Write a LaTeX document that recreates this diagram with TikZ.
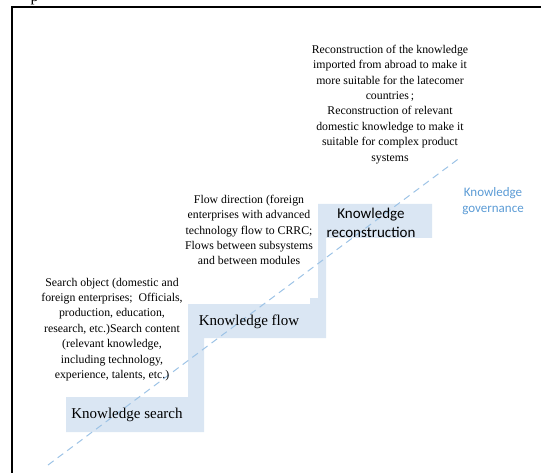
\documentclass[tikz,border=0pt]{standalone}
\usepackage{fontspec}
\setmainfont{Liberation Serif}
\newfontfamily\calib{Carlito}
\definecolor{stepfill}{RGB}{218,230,243}
\definecolor{dashblue}{RGB}{157,195,230}
\definecolor{govblue}{RGB}{91,155,213}
\begin{document}
\begin{tikzpicture}[x=1pt,y=-1pt,
  desc/.style={align=center,inner sep=0pt,font=\fontsize{11.8}{15.4}\selectfont},
  steplabel/.style={inner sep=0pt,font=\fontsize{15}{18}\selectfont},
  sanslabel/.style={align=center,inner sep=0pt,font=\calib\fontsize{15}{19}\selectfont},
  govlabel/.style={align=center,inner sep=0pt,text=govblue,font=\calib\fontsize{13}{16}\selectfont},
  guide/.style={draw=dashblue,line width=1pt,dash pattern=on 7pt off 5pt}]
\useasboundingbox (0,0) rectangle (541,473);
% frame
\draw[line width=2pt] (11.5,480) -- (11.5,7.5) -- (548,7.5);
% clipped fragment of text above frame
\node[anchor=base west,inner sep=0pt,font=\fontsize{16}{18}\selectfont] (frag) at (30.5,1.5) {p};
% staircase
\fill[stepfill] (66,397) -- (188,397) -- (188,304) -- (310,304) -- (310,298) -- (318,298)
  -- (318,204) -- (432,204) -- (432,238) -- (326,238) -- (326,338) -- (204,338)
  -- (204,432) -- (66,432) -- cycle;
% dashed guide
\coordinate (d1) at (48,465);
\coordinate (d2) at (461,157);
\draw[guide] (d1) -- (d2);
% step labels
\node[steplabel] (search) at (127,415) {Knowledge search};
\node[steplabel] (flow) at (249,322) {Knowledge flow};
\node[sanslabel] (recon) at (371,222.5) {Knowledge\\reconstruction};
\node[govlabel] (gov) at (493,201) {Knowledge\\governance};
% descriptions
\node[desc] (stxt) at (112,329.5) {Search object (domestic and\\foreign enterprises;\ \ Officials,\\production, education,\\research, etc.)Search content\\(relevant knowledge,\\including technology,\\experience, talents, etc.)};
\node[desc] (ftxt) at (249,230) {Flow direction (foreign\\enterprises with advanced\\technology flow to CRRC;\\Flows between subsystems\\and between modules};
\node[desc] (rtxt) at (390,104.4) {Reconstruction of the knowledge\\imported from abroad to make it\\more suitable for the latecomer\\countries\,;\\Reconstruction of relevant\\domestic knowledge to make it\\suitable for complex product\\systems};
\end{tikzpicture}
\end{document}
